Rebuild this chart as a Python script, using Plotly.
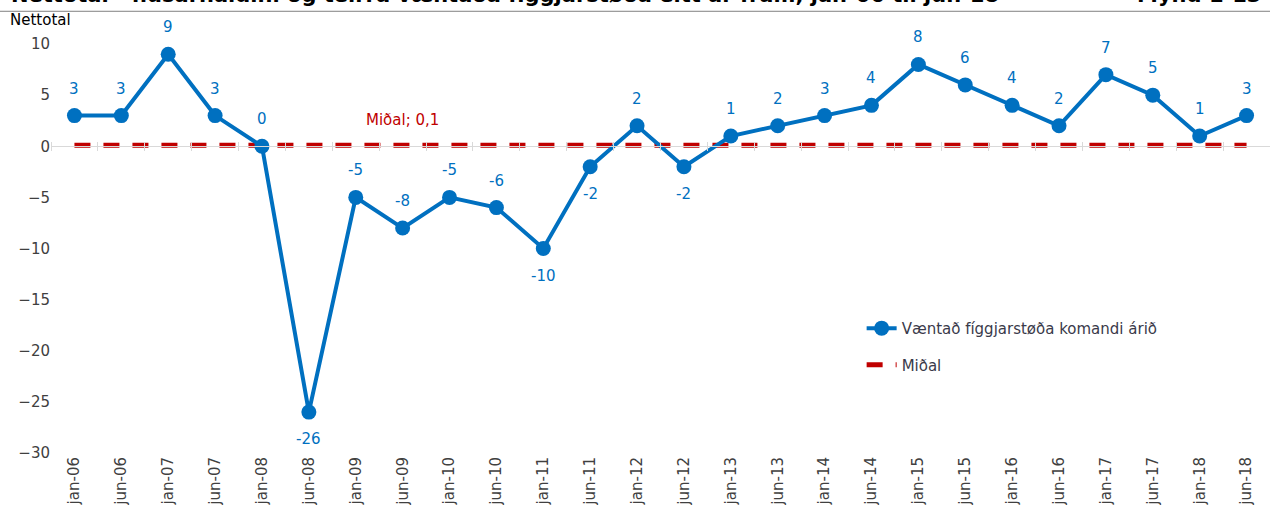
import plotly.graph_objects as go

# categories and values
periods = ['jan-06', 'jun-06', 'jan-07', 'jun-07', 'jan-08', 'jun-08', 'jan-09', 'jun-09',
           'jan-10', 'jun-10', 'jan-11', 'jun-11', 'jan-12', 'jun-12', 'jan-13', 'jun-13',
           'jan-14', 'jun-14', 'jan-15', 'jun-15', 'jan-16', 'jun-16', 'jan-17', 'jun-17',
           'jan-18', 'jun-18']
netto = [3, 3, 9, 3, 0, -26, -5, -8, -5, -6, -10, -2, 2, -2, 1, 2, 3, 4, 8, 6, 4, 2, 7, 5, 1, 3]
label_below = ['jun-08', 'jan-11', 'jun-11', 'jun-12']
midal = 0.1
y_ticks = [10, 5, 0, -5, -10, -15, -20, -25, -30]

blue = '#0070C0'
red = '#C00000'
txt = '#404040'
font = 'DejaVu Sans'

fig = go.Figure()

# empty trace on the base axis (carries the rotated tick labels)
fig.add_trace(go.Scatter(x=periods, y=[None] * len(periods), mode='lines', showlegend=False,
                         hoverinfo='skip'))
fig.add_trace(go.Scatter(x=periods, y=[midal] * len(periods), mode='lines', name='Miðal',
                         line=dict(color=red, width=5, dash='16px,13px'),
                         xaxis='x2', legendgroup='b', legendrank=2))
fig.add_trace(go.Scatter(x=periods, y=netto, mode='lines+markers',
                         name='Væntað fíggjarstøða komandi árið',
                         line=dict(color=blue, width=4), marker=dict(size=15, color=blue),
                         xaxis='x3', legendgroup='a', legendrank=1))

annotations = []
for p, v in zip(periods, netto):
    below = p in label_below
    annotations.append(dict(x=p, y=v, text=str(v), showarrow=False,
                            yshift=-27 if below else 27,
                            font=dict(color=blue, size=15, family=font)))
annotations.append(dict(x='jun-09', y=midal, text='Miðal; 0,1', showarrow=False, yshift=25,
                        font=dict(color=red, size=15, family=font)))
annotations.append(dict(xref='paper', yref='paper', x=-43 / 1219, y=1.033, xanchor='left',
                        yanchor='bottom', text='Nettotal', showarrow=False,
                        font=dict(color='#000', size=15, family=font)))
annotations.append(dict(xref='paper', yref='paper', x=-42 / 1219, y=1.085, xanchor='left',
                        yanchor='bottom', showarrow=False,
                        text='<b>Nettotal - húsarhaldini og teirra væntaða fíggjarstøða eitt ár fram, jan-06 til jun-18</b>',
                        font=dict(color='#000', size=21, family=font)))
annotations.append(dict(xref='paper', yref='paper', x=1.0 - 7 / 1219, y=1.085, xanchor='right',
                        yanchor='bottom', showarrow=False, text='<b>Mynd 1-13</b>',
                        font=dict(color='#000', size=21, family=font)))

cat = dict(type='category', categoryorder='array', categoryarray=periods, range=[-0.5, 25.5])

fig.update_layout(
    width=1270, height=521,
    margin=dict(l=51, r=0, t=44, b=68),
    plot_bgcolor='white', paper_bgcolor='white',
    font=dict(family=font, size=15, color=txt),
    xaxis=dict(**cat, showgrid=False, zeroline=False, showline=False, ticks='',
               tickangle=-90, tickfont=dict(size=15, color=txt)),
    xaxis2=dict(**cat, overlaying='x', anchor='free', position=0.75, side='bottom',
                showline=True, linecolor='#D9D9D9', linewidth=1, ticks='outside',
                tickson='boundaries', ticklen=4, tickcolor='#D9D9D9', showticklabels=False,
                showgrid=False, zeroline=False),
    xaxis3=dict(**cat, overlaying='x', anchor='free', position=0.75, side='top',
                showline=False, ticks='outside', tickson='boundaries', ticklen=4,
                tickcolor='#D9D9D9', showticklabels=False, showgrid=False, zeroline=False),
    yaxis=dict(range=[-30, 10], tickvals=y_ticks, showgrid=False, zeroline=False,
               showline=False, ticks='', tickfont=dict(size=15, color=txt)),
    legend=dict(x=0.665, y=0.345, xanchor='left', yanchor='top', traceorder='grouped',
                tracegroupgap=14, bgcolor='rgba(0,0,0,0)',
                font=dict(size=15, color='#3a3a4a', family=font)),
    showlegend=True,
    annotations=annotations,
    shapes=[dict(type='line', xref='paper', yref='paper', x0=-51 / 1219, x1=1.0,
                 y0=1.08, y1=1.08, line=dict(color='#808080', width=1))],
)

# drop the default page margin so the figure sits at the window's corner
fig.write_html('out.html', config={'displayModeBar': False},
               post_script="document.body.style.margin='0';")
